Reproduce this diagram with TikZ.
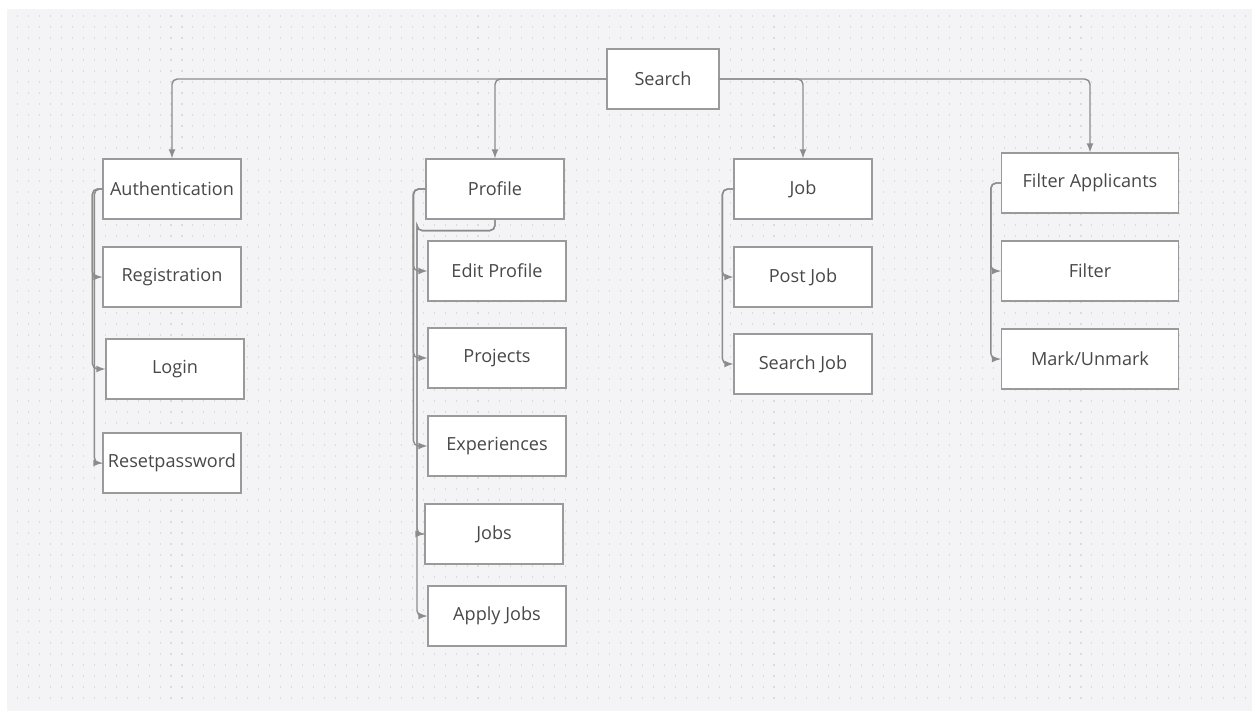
\documentclass[tikz,border=0pt]{standalone}
\usepackage{fontspec}
\setmainfont{Open Sans}
\usetikzlibrary{arrows}

\definecolor{canvas}{HTML}{F4F4F6}
\definecolor{dotgray}{HTML}{DCDCE0}
\definecolor{boxgray}{HTML}{9A9A9A}
\definecolor{linegray}{HTML}{8C8C8C}
\definecolor{txtgray}{HTML}{484848}

\begin{document}
\begin{tikzpicture}[x=0.02cm,y=-0.02cm,>=latex,
  box/.style={draw=boxgray,fill=white,line width=0.7pt,minimum width=2.76cm,
    minimum height=1.2cm,inner xsep=1pt,text=txtgray,
    font=\fontsize{10.3}{12}\selectfont},
  widebox/.style={box,minimum width=3.54cm},
  link/.style={draw=linegray,line width=0.8pt,rounded corners=3pt,->},
  dotrow/.style={draw=dotgray,line width=0.9pt,dash pattern=on 0.6pt off 5.64pt}]
\useasboundingbox (0,0) rectangle (1252,711);
\fill[canvas] (7,9) rectangle (1252,711);
\foreach \y in {16,27,...,705}
  \draw[dotrow] (17,\y) -- (1252,\y);
%
\node[box,minimum width=2.24cm] (srch) at (663,79) {Search};
%
\node[box] (auth) at (172,189) {Authentication};
\node[box] (reg)  at (172,277) {Registration};
\node[box] (login) at (175,369) {Login};
\node[box] (reset) at (172,463) {Resetpassword};
%
\node[box] (prof) at (495,189) {Profile};
\node[box] (edit) at (497,271) {Edit Profile};
\node[box] (proj) at (497,358) {Projects};
\node[box] (exp)  at (497,446) {Experiences};
\node[box] (jobs) at (494,534) {Jobs};
\node[box] (apply) at (497,616) {Apply Jobs};
%
\node[box] (job)  at (803,189) {Job};
\node[box] (post) at (803,277) {Post Job};
\node[box] (sjob) at (803,364) {Search Job};
%
\node[widebox] (fapp) at (1090,183) {Filter Applicants};
\node[widebox] (filt) at (1090,271) {Filter};
\node[widebox] (mark) at (1090,359) {Mark/Unmark};
%%
\draw[link] (srch.west) -| (auth.north);
\draw[link] (srch.west) -| (prof.north);
\draw[link] (srch.east) -| (job.north);
\draw[link] (srch.east) -| (fapp.north);
%
\draw[link] (auth.west) -- ++(-10,0) |- (reg.west);
\draw[link] (auth.west) -- ++(-10,0) |- (login.west);
\draw[link] (auth.west) -- ++(-8,0) |- (reset.west);
%
\draw[link] (prof.west) -- ++(-12,0) |- (edit.west);
\draw[link] (prof.west) -- ++(-12,0) |- (proj.west);
\draw[link] (prof.west) -- ++(-12,0) |- (exp.west);
\draw[link] (prof.south) -- ++(0,11) -| ++(-78,0) |- (jobs.west);
\draw[link] (prof.south) -- ++(0,11) -| ++(-78,0) |- (apply.west);
%
\draw[link] (job.west) -- ++(-11,0) |- (post.west);
\draw[link] (job.west) -- ++(-11,0) |- (sjob.west);
%
\draw[link] (fapp.west) -- ++(-10,0) |- (filt.west);
\draw[link] (fapp.west) -- ++(-10,0) |- (mark.west);
\end{tikzpicture}
\end{document}
